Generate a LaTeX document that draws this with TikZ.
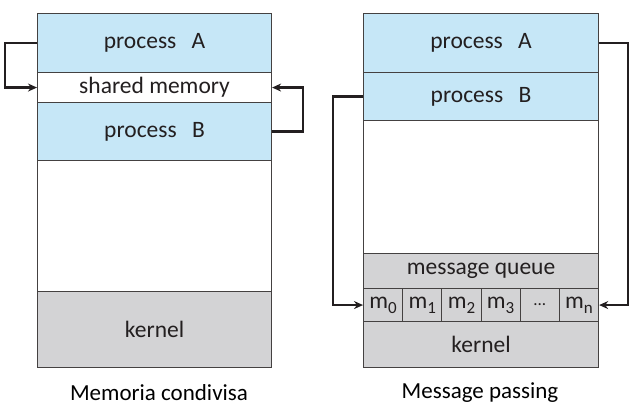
\documentclass[tikz,border=0pt]{standalone}
\usepackage{fontspec}
\setmainfont{Carlito}
\usetikzlibrary{arrows.meta,positioning}
\definecolor{procblue}{HTML}{C6E7F7}
\definecolor{kerngray}{HTML}{D3D3D5}
\definecolor{inkdark}{HTML}{231F20}
\newcommand{\msub}[1]{m\raisebox{-0.22em}{\fontsize{17}{17}\selectfont #1}}
\tikzset{%
    seg/.style={draw=inkdark!85,line width=1.1pt,text=inkdark,anchor=north west,
      minimum width=234pt,inner sep=0pt,font=\fontsize{23.5}{25}\selectfont},
    proc/.style={seg,fill=procblue},
    sys/.style={seg,fill=kerngray},
    slot/.style={seg,fill=kerngray,minimum width=39.2pt,minimum height=33pt},
    ipc/.style={line width=2.3pt,draw=inkdark,
      -{Stealth[length=9pt,width=8pt]}},
    caption/.style={text=black,font=\fontsize{23}{25}\selectfont},
}
\begin{document}
\begin{tikzpicture}[x=1pt,y=-1pt]
 \useasboundingbox (0,0) rectangle (636,407);
 % shared memory
 \node[proc,minimum height=59pt] (pA) at (37,13) {process\hspace{0.65em}A};
 \node[seg,fill=white,minimum height=30pt] (shm) at (37,72) {shared memory};
 \node[proc,minimum height=58pt] (pB) at (37,102) {process\hspace{0.65em}B};
 \node[seg,minimum height=131pt] (free) at (37,160) {};
 \node[sys,minimum height=76pt] (kern) at (37,291) {kernel};
 \draw[ipc] (pA.west) -- ++(-32,0) |- (shm.west);
 \draw[ipc] (pB.east) -- ++(31,0) |- (shm.east);
 \node[caption] (capL) at (159,393) {Memoria condivisa};
 % message passing
 \node[proc,minimum width=235pt,minimum height=59pt] (qA) at (363,13) {process\hspace{0.65em}A};
 \node[proc,minimum width=235pt,minimum height=48pt] (qB) at (363,72) {process\hspace{0.65em}B};
 \node[seg,minimum width=235pt,minimum height=133pt] (qfree) at (363,120) {};
 \node[sys,minimum width=235pt,minimum height=35pt] (mq) at (363,253) {message queue};
 \foreach \i/\lbl in {0/\msub{0},1/\msub{1},2/\msub{2},3/\msub{3},4/{\fontsize{17}{17}\selectfont\raisebox{0.1em}{...}},5/\msub{n}}
 \node[slot] (m\i) at (363+39.17*\i,288) {\lbl};
 \node[sys,minimum width=235pt,minimum height=46pt] (qkern) at (363,321) {kernel};
 \draw[ipc] (qA.east) -- ++(29,0) |- (m5.east);
 \draw[ipc] (qB.west) -- ++(-30,0) |- (m0.west);
 \node[caption] (capR) at (480,393) {Message passing};
\end{tikzpicture}
\end{document}
